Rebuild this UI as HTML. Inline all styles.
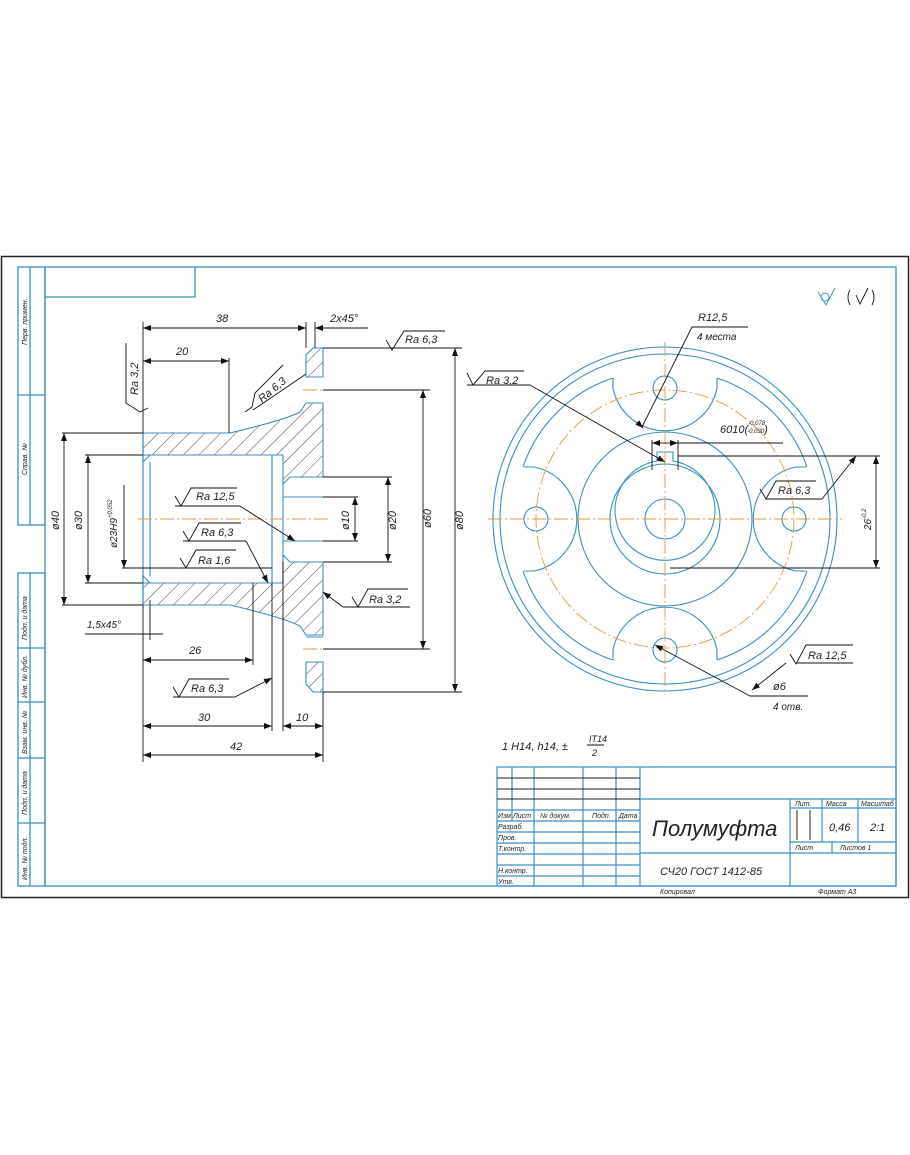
<!DOCTYPE html>
<html><head><meta charset="utf-8"><style>
html,body{margin:0;padding:0;background:#fff}
svg{display:block}
text{font-family:"Liberation Sans","DejaVu Sans",sans-serif;font-style:italic;fill:#222}
</style></head><body>
<svg width="910" height="1155" viewBox="0 0 910 1155" xmlns="http://www.w3.org/2000/svg">
<defs>
<pattern id="h" patternUnits="userSpaceOnUse" width="11" height="11" patternTransform="rotate(45)">
<line x1="0" y1="0" x2="0" y2="11" stroke="#333" stroke-width="0.9"/>
</pattern>
<marker id="a" markerWidth="8" markerHeight="6" refX="8" refY="3" orient="auto-start-reverse" markerUnits="userSpaceOnUse"><path d="M0,0 L8,3 L0,6z" fill="#111"/></marker>
</defs>
<!-- frames -->
<rect x="1.5" y="256.5" width="907" height="641" fill="none" stroke="#222" stroke-width="1.5"/>
<g fill="none" stroke="#3a8ec2" stroke-width="1.3">
<rect x="45" y="267" width="851" height="619"/>
<rect x="18" y="267" width="27" height="258"/>
<line x1="30" y1="267" x2="30" y2="525"/><line x1="18" y1="395" x2="45" y2="395"/>
<rect x="18" y="573" width="27" height="313"/>
<line x1="30" y1="573" x2="30" y2="886"/>
<line x1="18" y1="648" x2="45" y2="648"/><line x1="18" y1="702" x2="45" y2="702"/>
<line x1="18" y1="758" x2="45" y2="758"/><line x1="18" y1="823" x2="45" y2="823"/>
<polyline points="45,297 195,297 195,267"/>
</g>
<g font-size="7" fill="#444">
<text transform="translate(27,345) rotate(-90)">Перв. примен.</text>
<text transform="translate(27,475) rotate(-90)">Справ. №</text>
<text transform="translate(27,640) rotate(-90)">Подп. и дата</text>
<text transform="translate(27,698) rotate(-90)">Инв. № дубл.</text>
<text transform="translate(27,754) rotate(-90)">Взам. инв. №</text>
<text transform="translate(27,815) rotate(-90)">Подп. и дата</text>
<text transform="translate(27,880) rotate(-90)">Инв. № подл.</text>
</g>

<!-- LEFT SECTION VIEW -->
<g stroke="#3a8ec2" stroke-width="1.1">
<path d="M143,433 L230,433 Q285,420 300,412 L306,403 L323,403 L323,477 L290,477 L283,484 L283,455 L150,455 L143,462 Z" fill="url(#h)"/>
<path d="M306,377 L306,355 L313,348 L323,348 L323,377 Z" fill="url(#h)"/>
<path d="M143,605 L230,605 Q285,618 300,626 L306,635 L323,635 L323,562 L290,562 L283,555 L283,583 L150,583 L143,576 Z" fill="url(#h)"/>
<path d="M306,662 L306,684 L313,692 L323,692 L323,662 Z" fill="url(#h)"/>
</g>
<g fill="none" stroke="#3a8ec2" stroke-width="1.1">
<line x1="143" y1="433" x2="143" y2="605"/>
<line x1="150" y1="462" x2="150" y2="576"/>
<line x1="272" y1="455" x2="272" y2="583"/>
<line x1="283" y1="484" x2="283" y2="555"/>
<line x1="306" y1="377" x2="323" y2="377"/><line x1="306" y1="403" x2="323" y2="403"/>
<line x1="306" y1="637" x2="323" y2="637"/><line x1="306" y1="662" x2="323" y2="662"/>
<line x1="283" y1="497" x2="323" y2="497"/><line x1="283" y1="541" x2="323" y2="541"/>
<line x1="143" y1="455" x2="272" y2="455"/><line x1="143" y1="583" x2="272" y2="583"/>
<line x1="143" y1="433" x2="143" y2="605"/>
</g>
<g stroke="#e39a3a" stroke-width="0.9" stroke-dasharray="14,3,2,3">
<line x1="138" y1="519" x2="330" y2="519"/>
<line x1="303" y1="390" x2="330" y2="390"/><line x1="303" y1="649" x2="330" y2="649"/>
</g>
<!-- dims left -->
<g stroke="#111" stroke-width="0.9" fill="none">
<line x1="143" y1="322" x2="143" y2="433"/>
<line x1="306" y1="322" x2="306" y2="348"/><line x1="315" y1="322" x2="315" y2="348"/>
<line x1="143" y1="328" x2="306" y2="328" marker-start="url(#a)" marker-end="url(#a)"/>
<line x1="315" y1="328" x2="368" y2="328" marker-start="url(#a)"/>
<line x1="229" y1="358" x2="229" y2="433"/>
<line x1="143" y1="361" x2="229" y2="361" marker-start="url(#a)" marker-end="url(#a)"/>
<line x1="323" y1="348" x2="462" y2="348"/><line x1="323" y1="692" x2="462" y2="692"/>
<line x1="455" y1="348" x2="455" y2="692" marker-start="url(#a)" marker-end="url(#a)"/>
<line x1="323" y1="390" x2="430" y2="390"/><line x1="323" y1="649" x2="430" y2="649"/>
<line x1="423" y1="390" x2="423" y2="649" marker-start="url(#a)" marker-end="url(#a)"/>
<line x1="323" y1="477" x2="392" y2="477"/><line x1="323" y1="562" x2="392" y2="562"/>
<line x1="388" y1="477" x2="388" y2="562" marker-start="url(#a)" marker-end="url(#a)"/>
<line x1="323" y1="497" x2="358" y2="497"/><line x1="323" y1="541" x2="358" y2="541"/>
<line x1="355" y1="497" x2="355" y2="541" marker-start="url(#a)" marker-end="url(#a)"/>
<line x1="62" y1="433" x2="143" y2="433"/><line x1="62" y1="605" x2="143" y2="605"/>
<line x1="64" y1="433" x2="64" y2="605" marker-start="url(#a)" marker-end="url(#a)"/>
<line x1="85" y1="455" x2="143" y2="455"/><line x1="85" y1="583" x2="143" y2="583"/>
<line x1="88" y1="455" x2="88" y2="583" marker-start="url(#a)" marker-end="url(#a)"/>
<line x1="124" y1="485" x2="124" y2="568" marker-end="url(#a)"/>
<line x1="122" y1="568" x2="272" y2="568"/>
<line x1="85" y1="634" x2="163" y2="634"/>
<line x1="150" y1="600" x2="150" y2="640"/>
<line x1="143" y1="605" x2="143" y2="762"/>
<line x1="253" y1="583" x2="253" y2="665"/>
<line x1="143" y1="660" x2="253" y2="660" marker-start="url(#a)" marker-end="url(#a)"/>
<line x1="272" y1="583" x2="272" y2="731"/><line x1="283" y1="562" x2="283" y2="731"/>
<line x1="323" y1="692" x2="323" y2="762"/>
<line x1="143" y1="726" x2="272" y2="726" marker-start="url(#a)" marker-end="url(#a)"/>
<line x1="283" y1="726" x2="323" y2="726" marker-start="url(#a)" marker-end="url(#a)"/>
<line x1="143" y1="755" x2="323" y2="755" marker-start="url(#a)" marker-end="url(#a)"/>
<!-- roughness signs left -->
<polyline points="386,340 392,350 404,331 445,331"/>
<polyline points="148,408 140,412 126,403 126,343"/>
<polyline points="245,412 252,407 255,393 283,365"/><line x1="253" y1="410" x2="306" y2="374"/>
<polyline points="175,496 181,506 191,488 237,488"/><line x1="175" y1="506" x2="240" y2="506"/><line x1="240" y1="506" x2="295" y2="541" marker-end="url(#a)"/>
<polyline points="183,531 189,541 199,523 241,523"/><line x1="183" y1="541" x2="246" y2="541"/><line x1="246" y1="541" x2="268" y2="583" marker-end="url(#a)"/>
<polyline points="180,558 186,568 196,550 236,550"/>
<polyline points="352,597 358,607 368,589 408,589"/><line x1="343" y1="607" x2="410" y2="607"/><line x1="343" y1="607" x2="323" y2="592" marker-end="url(#a)"/>
<polyline points="173,687 179,697 189,679 229,679"/><line x1="173" y1="697" x2="235" y2="697"/><line x1="235" y1="697" x2="272" y2="678" marker-end="url(#a)"/>
</g>
<g font-size="11">
<text x="216" y="322">38</text><text x="176" y="355">20</text><text x="330" y="322">2x45°</text>
<text x="405" y="343">Ra 6,3</text>
<text transform="translate(138,395) rotate(-90)">Ra 3,2</text>
<text transform="translate(262,403) rotate(-40)">Ra 6,3</text>
<text x="196" y="500">Ra 12,5</text><text x="201" y="536">Ra 6,3</text><text x="198" y="564">Ra 1,6</text>
<text x="369" y="603">Ra 3,2</text><text x="191" y="692">Ra 6,3</text>
<text x="189" y="654">26</text><text x="198" y="721">30</text><text x="296" y="721">10</text><text x="230" y="750">42</text>
<text x="87" y="628" font-size="10">1,5x45°</text>
<text transform="translate(463,530) rotate(-90)">ø80</text>
<text transform="translate(431,528) rotate(-90)">ø60</text>
<text transform="translate(396,530) rotate(-90)">ø20</text>
<text transform="translate(349,530) rotate(-90)">ø10</text>
<text transform="translate(59,530) rotate(-90)">ø40</text>
<text transform="translate(82,530) rotate(-90)">ø30</text>
<text transform="translate(117,548) rotate(-90)" font-size="10">ø23H9<tspan dy="-5" font-size="6">+0,052</tspan></text>
</g>

<!-- RIGHT VIEW -->
<g fill="none" stroke="#3a8ec2" stroke-width="1.1">
<circle cx="665" cy="519" r="172"/><circle cx="665" cy="519" r="165"/>
<circle cx="665" cy="519" r="87"/><circle cx="665" cy="519" r="55"/>
<circle cx="665" cy="519" r="20"/>
<path d="M657,461 A50,50 0 1 0 673,461 L673,452 L657,452 Z"/>
<circle cx="665" cy="388" r="12"/><circle cx="665" cy="650" r="12"/>
<circle cx="536" cy="519" r="12"/><circle cx="794" cy="519" r="12"/>
<g id="c">
<path d="M613,378 L613,388 A53,53 0 0 0 717,388 L717,378"/>
</g>
<use href="#c" transform="rotate(90 665 519)"/>
<use href="#c" transform="rotate(180 665 519)"/>
<use href="#c" transform="rotate(270 665 519)"/>
<path d="M717,378 A142,142 0 0 1 807,467"/>
<path d="M807,571 A142,142 0 0 1 717,660"/>
<path d="M613,660 A142,142 0 0 1 523,571"/>
<path d="M523,467 A142,142 0 0 1 613,378"/>
</g>
<g stroke="#e39a3a" stroke-width="0.9" fill="none" stroke-dasharray="14,3,2,3">
<circle cx="665" cy="519" r="129"/>
<line x1="488" y1="519" x2="842" y2="519"/><line x1="665" y1="342" x2="665" y2="695"/>
</g>
<g stroke="#111" stroke-width="0.9" fill="none">
<polyline points="748,327 692,327 642,427" /><line x1="642" y1="427" x2="643" y2="428" marker-end="url(#a)"/>
<polyline points="467,373 473,385 485,371 524,371"/><line x1="467" y1="385" x2="530" y2="385"/><line x1="530" y1="385" x2="665" y2="462" marker-end="url(#a)"/>
<line x1="652" y1="440" x2="652" y2="470"/><line x1="678" y1="440" x2="678" y2="470"/>
<line x1="652" y1="443" x2="665" y2="443" marker-start="url(#a)"/><line x1="665" y1="443" x2="678" y2="443" marker-end="url(#a)"/>
<line x1="678" y1="443" x2="783" y2="443"/>
<line x1="678" y1="456" x2="880" y2="456"/><line x1="670" y1="568" x2="880" y2="568"/>
<line x1="876" y1="456" x2="876" y2="568" marker-start="url(#a)" marker-end="url(#a)"/>
<polyline points="760,489 766,499 776,481 816,481"/><line x1="766" y1="499" x2="822" y2="499"/><line x1="822" y1="499" x2="856" y2="456" marker-end="url(#a)"/>
<polyline points="790,654 796,664 806,645 853,645"/><line x1="796" y1="663" x2="853" y2="663"/><line x1="786" y1="663" x2="752" y2="690" marker-end="url(#a)"/>
<line x1="808" y1="696" x2="750" y2="696"/><line x1="750" y1="696" x2="655" y2="645" marker-end="url(#a)"/>
<!-- corner sign -->
<path d="M818,292 L826,305 L835,288" stroke="#3a8ec2"/><circle cx="825" cy="297" r="4" stroke="#3a8ec2"/>
<path d="M850,290 Q846,297 850,305 M856,295 L860,304 L868,288 M872,290 Q876,297 872,305"/>
</g>
<g font-size="11">
<text x="698" y="321">R12,5</text><text x="697" y="340" font-size="10">4 места</text>
<text x="486" y="384">Ra 3,2</text>
<text x="720" y="433">6010(<tspan font-size="6" dy="-8">-0,078</tspan><tspan font-size="6" dx="-18" dy="8">-0,030</tspan>)</text>
<text x="778" y="494">Ra 6,3</text><text x="808" y="659">Ra 12,5</text>
<text x="773" y="690">ø6</text><text x="773" y="710" font-size="10">4 отв.</text>
<text transform="translate(871,530) rotate(-90)" font-size="10">26<tspan font-size="6" dy="-5">-0,2</tspan></text>
<text x="502" y="750">1 H14, h14, ±</text><text x="589" y="742" font-size="9">IT14</text>
<line x1="587" y1="745" x2="604" y2="745" stroke="#111"/><text x="592" y="756" font-size="9">2</text>
</g>

<!-- TITLE BLOCK -->
<g fill="none" stroke="#3a8ec2" stroke-width="1.2">
<rect x="497" y="767" width="399" height="119"/>
<line x1="640" y1="767" x2="640" y2="886"/>
<line x1="640" y1="799" x2="896" y2="799"/>
<line x1="640" y1="853" x2="896" y2="853"/>
<line x1="790" y1="799" x2="790" y2="886"/>
<line x1="790" y1="808" x2="896" y2="808"/>
<line x1="790" y1="842" x2="896" y2="842"/>
<line x1="822" y1="799" x2="822" y2="842"/><line x1="858" y1="799" x2="858" y2="842"/>
<line x1="832" y1="842" x2="832" y2="853"/>
<line x1="497" y1="810" x2="640" y2="810"/><line x1="497" y1="854" x2="640" y2="854"/>
<line x1="497" y1="821" x2="640" y2="821"/><line x1="497" y1="832" x2="640" y2="832"/>
<line x1="497" y1="843" x2="640" y2="843"/><line x1="497" y1="865" x2="640" y2="865"/>
<line x1="497" y1="876" x2="640" y2="876"/>
<line x1="512" y1="767" x2="512" y2="821"/><line x1="534" y1="767" x2="534" y2="886"/>
<line x1="583" y1="767" x2="583" y2="886"/><line x1="616" y1="767" x2="616" y2="886"/>
</g>
<g stroke="#222" stroke-width="1">
<line x1="497" y1="778" x2="640" y2="778"/><line x1="497" y1="789" x2="640" y2="789"/><line x1="497" y1="799" x2="640" y2="799"/>
<line x1="797" y1="810" x2="797" y2="840"/><line x1="810" y1="810" x2="810" y2="840"/>
</g>
<g font-size="7" fill="#333">
<text x="498" y="818">Изм</text><text x="513" y="818">Лист</text><text x="540" y="818">№ докум.</text><text x="592" y="818">Подп.</text><text x="619" y="818">Дата</text>
<text x="498" y="829">Разраб.</text><text x="498" y="840">Пров.</text><text x="498" y="851">Т.контр.</text>
<text x="498" y="873">Н.контр.</text><text x="498" y="884">Утв.</text>
<text x="795" y="806">Лит.</text><text x="826" y="806">Масса</text><text x="861" y="806">Масштаб</text>
<text x="795" y="850">Лист</text><text x="840" y="850">Листов 1</text>
<text x="660" y="894">Копировал</text><text x="818" y="894">Формат  А3</text>
</g>
<text x="652" y="836" font-size="22">Полумуфта</text>
<text x="660" y="875" font-size="11">СЧ20 ГОСТ 1412-85</text>
<text x="829" y="831" font-size="11">0,46</text><text x="870" y="831" font-size="11">2:1</text>
</svg>
</body></html>
